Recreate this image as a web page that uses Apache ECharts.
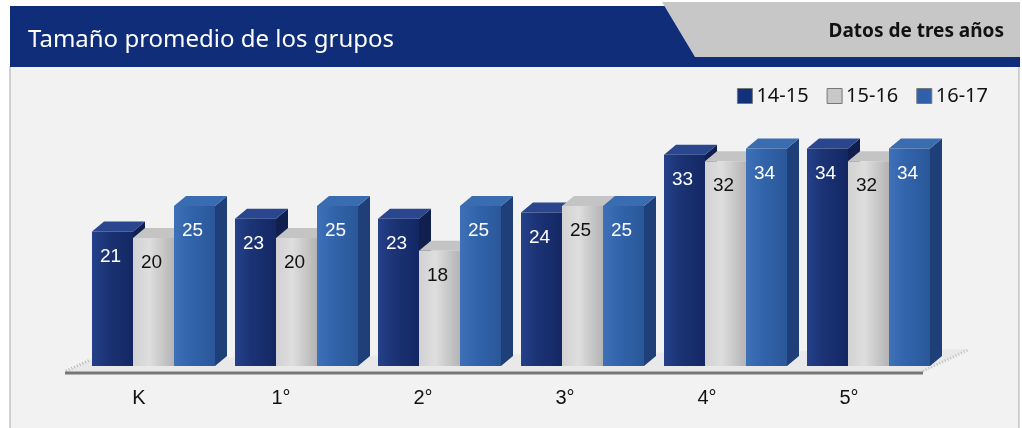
<!DOCTYPE html>
<html>
<head>
<meta charset="utf-8">
<script src="https://cdn.jsdelivr.net/npm/echarts@6/dist/echarts.min.js"></script>
<style>
  html, body { margin: 0; padding: 0; background: #ffffff; }
  #chart { width: 1022px; height: 428px; }
</style>
</head>
<body>
<div id="chart"></div>
<script>
// Data
const categories = ['K', '1°', '2°', '3°', '4°', '5°'];
const seriesNames = ['14-15', '15-16', '16-17'];
const values1415 = [21, 23, 23, 24, 33, 34];
const values1516 = [20, 20, 18, 25, 32, 32];
const values1617 = [25, 25, 25, 25, 34, 34];

const allValues = [values1415, values1516, values1617];

// Look of each series: front, side, top, label colour
const looks = [
    { legend: '#13307a', front: ['#25418a', '#1b3374', '#142764'], side: '#101f4e', top: '#2a468e', label: '#ffffff' },
    { legend: '#c8c8c8', front: ['#d2d2d2', '#dedede', '#b4b4b4'], side: '#9a9a9a', top: '#c4c4c4', label: '#111111' },
    { legend: '#2f60a9', front: ['#3e71b8', '#3264ab', '#2a5799'], side: '#1f3f78', top: '#3a6cb2', label: '#ffffff' }
];

const barOffsets = [-47, -6, 35];
const barWidth = 41;
const depthX = 12;
const depthY = -10;

function makeRender(k) {
    const look = looks[k];
    return function (params, api) {
        const ci = api.value(0);
        const v = api.value(1);
        const top = api.coord([ci, v]);
        const base = api.coord([ci, 0]);
        const x0 = top[0] + barOffsets[k] + ci;
        const x1 = x0 + barWidth;
        const yt = top[1];
        const yb = base[1];
        return {
            type: 'group',
            children: [
                {
                    type: 'polygon',
                    shape: { points: [[x1, yt], [x1 + depthX, yt + depthY], [x1 + depthX, yb + depthY], [x1, yb]] },
                    style: { fill: look.side }
                },
                {
                    type: 'polygon',
                    shape: { points: [[x0, yt], [x0 + depthX, yt + depthY], [x1 + depthX, yt + depthY], [x1, yt]] },
                    style: { fill: look.top }
                },
                {
                    type: 'rect',
                    shape: { x: x0, y: yt, width: barWidth, height: yb - yt },
                    style: {
                        fill: new echarts.graphic.LinearGradient(0, 0, 1, 0, [
                            { offset: 0, color: look.front[0] },
                            { offset: 0.4, color: look.front[1] },
                            { offset: 1, color: look.front[2] }
                        ])
                    }
                },
                {
                    type: 'text',
                    style: {
                        text: String(v),
                        x: x0 + barWidth / 2 - 2,
                        y: yt + 25,
                        fill: look.label,
                        font: '19px "Liberation Sans", Arial, sans-serif',
                        align: 'center',
                        verticalAlign: 'middle'
                    }
                }
            ]
        };
    };
}

const chart = echarts.init(document.getElementById('chart'), null, { renderer: 'canvas' });

const option = {
    animation: false,
    backgroundColor: '#ffffff',
    graphic: [
        // panel
        { type: 'rect', shape: { x: 10, y: 66, width: 1009, height: 370 }, style: { fill: '#f2f2f2', stroke: '#a8a8a8', lineWidth: 1 }, z: -10 },
        // header band
        { type: 'rect', shape: { x: 10, y: 6, width: 1010, height: 61 }, style: { fill: '#0f2d78' }, z: -9 },
        { type: 'polygon', shape: { points: [[662, 2], [1020, 2], [1020, 57], [695, 57]] }, style: { fill: '#c7c7c7' }, z: -8 },
        { type: 'text', style: { text: 'Tamaño promedio de los grupos', x: 28, y: 40, fill: '#ffffff', font: '24px "Noto Sans", sans-serif', verticalAlign: 'middle' }, z: -7 },
        { type: 'text', style: { text: 'Datos de tres años', x: 1004, y: 32, fill: '#111111', font: 'bold 19px "Noto Sans", sans-serif', align: 'right', verticalAlign: 'middle' }, z: -7 },
        // floor
        { type: 'polygon', shape: { points: [[65, 372], [923, 372], [970, 349], [92, 359]] }, style: { fill: '#e9e9e9' }, z: -6 },
        { type: 'line', shape: { x1: 66, y1: 371, x2: 90, y2: 360 }, style: { stroke: '#b5b5b5', lineWidth: 3, lineDash: [1, 2] }, z: -5 },
        { type: 'line', shape: { x1: 923, y1: 371, x2: 968, y2: 350 }, style: { stroke: '#c0c0c0', lineWidth: 3, lineDash: [1, 2] }, z: -5 },
        { type: 'line', shape: { x1: 65, y1: 373, x2: 923, y2: 373 }, style: { stroke: '#777777', lineWidth: 3 }, z: -5 }
    ],
    legend: {
        data: seriesNames,
        right: 29,
        top: 81,
        itemWidth: 15,
        itemHeight: 15,
        itemGap: 18,
        icon: 'rect',
        itemStyle: { borderColor: '#777777', borderWidth: 1 },
        textStyle: { fontFamily: '"Noto Sans", sans-serif', fontSize: 20, color: '#111111', padding: [0, 0, 0, -1] }
    },
    grid: { left: 68, right: 102, top: 110, bottom: 62 },
    xAxis: {
        type: 'category',
        data: categories,
        axisLine: { show: false },
        axisTick: { show: false },
        axisLabel: { fontSize: 20, color: '#111111', fontFamily: '"Liberation Sans", Arial, sans-serif', margin: 22 }
    },
    yAxis: {
        type: 'value',
        min: 0,
        max: 40,
        show: false,
        splitLine: { show: false }
    },
    series: seriesNames.map(function (name, k) {
        return {
            name: name,
            type: 'custom',
            clip: false,
            itemStyle: { color: looks[k].legend },
            encode: { x: 0, y: 1 },
            data: categories.map(function (c, i) { return [i, allValues[k][i]]; }),
            renderItem: makeRender(k)
        };
    })
};

chart.setOption(option);

window.addEventListener('resize', () => {
    chart.resize();
});
</script>
</body>
</html>
